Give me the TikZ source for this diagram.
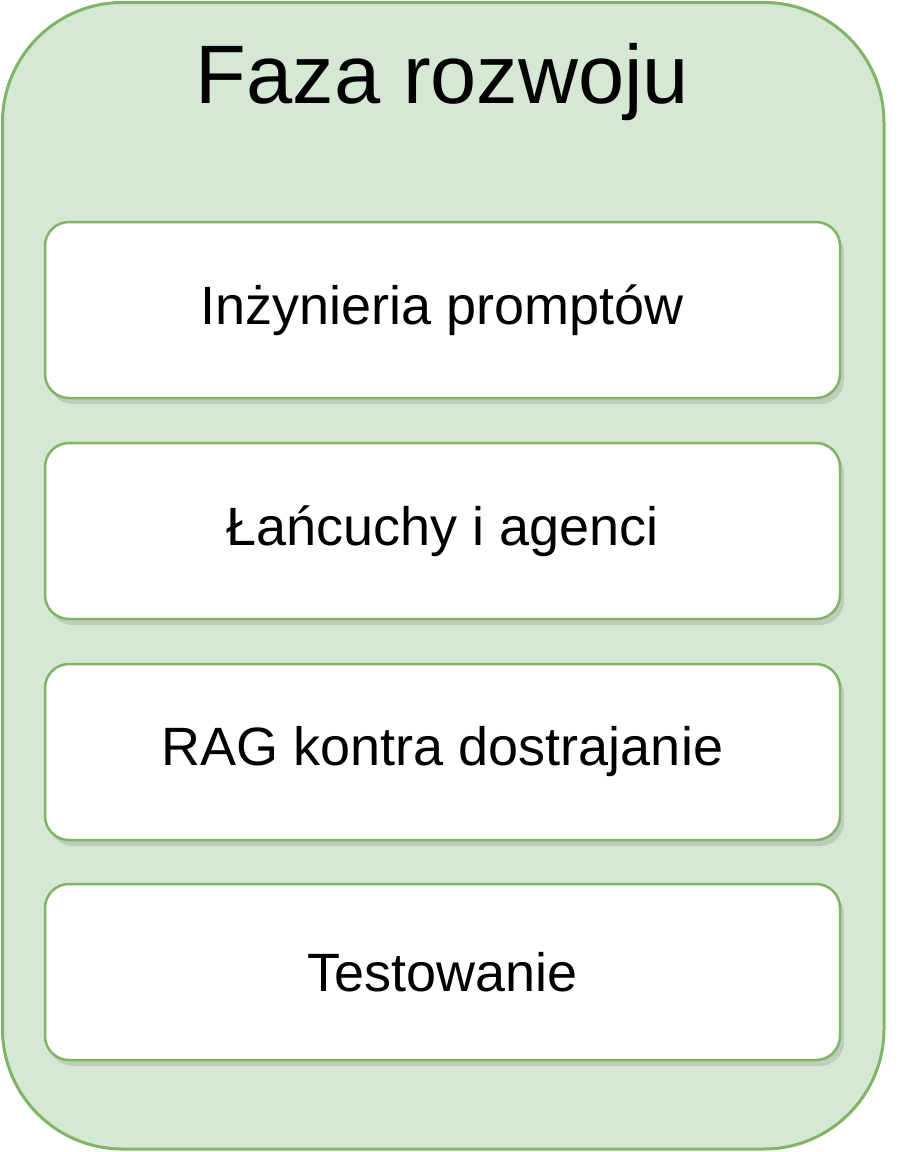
\documentclass[tikz,border=0pt]{standalone}
\usepackage{fontspec}
\setmainfont{Liberation Sans}
\usepackage{tikz}
\usetikzlibrary{shadows}

\definecolor{phasefill}{HTML}{D5E8D4}
\definecolor{phaseline}{HTML}{82B366}

\begin{document}
\begin{tikzpicture}[x=1pt,y=-1pt]

\tikzstyle{phase}=[rectangle,draw=phaseline,fill=phasefill,line width=3pt,rounded corners=120pt]
\tikzstyle{task}=[rectangle,draw=phaseline,fill=white,line width=2.5pt,rounded corners=24pt, minimum width=795pt, minimum height=176pt, inner sep=0pt, font=\fontsize{54}{62}\selectfont, drop shadow={shadow xshift=4pt,shadow yshift=-6pt,opacity=0.25}]
\tikzstyle{title}=[font=\fontsize{83}{96}\selectfont]

\useasboundingbox (0,0) rectangle (922,1152);
\filldraw[phase] (2.5,2.5) rectangle (884,1149);
\node[title] (phasetitle) at (442.5,82) {Faza rozwoju};

\node[task] (prompts) at (442.5,310) {Inżynieria promptów};
\node[task] (chains) at (442.5,531) {Łańcuchy i agenci};
\node[task] (ragtune) at (442.5,752) {RAG kontra dostrajanie};
\node[task] (testing) at (442.5,972) {Testowanie};
\end{tikzpicture}
\end{document}
